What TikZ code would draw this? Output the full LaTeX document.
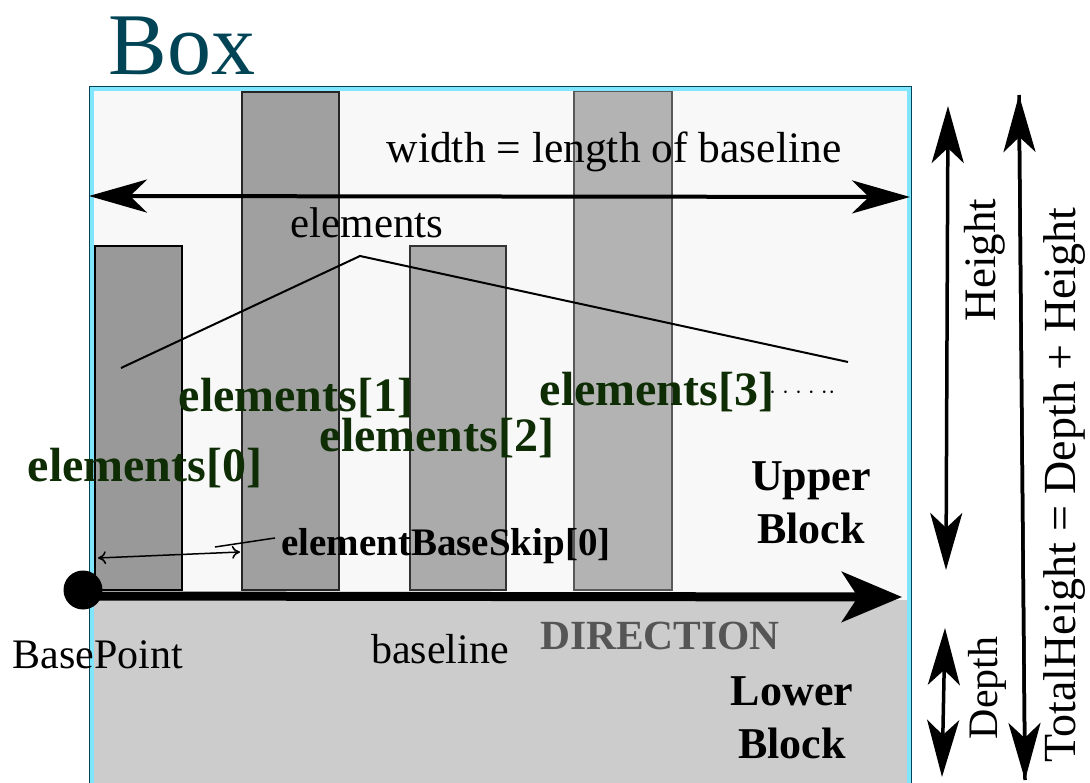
\documentclass[tikz,border=0pt]{standalone}
\usepackage{fontspec}
\setmainfont{Liberation Serif}
\usetikzlibrary{arrows.meta}
\definecolor{boxteal}{RGB}{0,68,85}
\definecolor{boxcyan}{RGB}{128,229,255}
\definecolor{elgreen}{RGB}{15,45,5}
\definecolor{upperfill}{RGB}{248,248,248}
\definecolor{lowerfill}{RGB}{204,204,204}
\definecolor{dirgrey}{RGB}{85,85,85}
\definecolor{barA}{RGB}{153,153,153}
\definecolor{barB}{RGB}{160,160,160}
\definecolor{barC}{RGB}{171,171,171}
\definecolor{barD}{RGB}{179,179,179}
\tikzset{
  txt/.style={inner sep=0pt, font=\fontsize{42}{50}\selectfont},
  grn/.style={inner sep=0pt, text=elgreen, font=\bfseries\fontsize{48}{52}\selectfont},
  blk/.style={inner sep=0pt, align=center, font=\bfseries\fontsize{44}{53}\selectfont},
  bar/.style={line width=2pt},
  bigdouble/.style={line width=3.5pt, {Stealth[length=57pt,width=32pt,inset=15pt]}-{Stealth[length=57pt,width=32pt,inset=15pt]}},
  widtharrow/.style={line width=4pt, {Stealth[length=58pt,width=33pt,inset=17pt]}-{Stealth[length=58pt,width=33pt,inset=17pt]}},
  basearrow/.style={line width=9pt, -{Stealth[length=60pt,width=50pt,inset=16pt]}},
  skiparrow/.style={line width=1.5pt, {To[length=8pt,width=13pt]}-{To[length=8pt,width=13pt]}},
  thinline/.style={line width=2pt}
}
\begin{document}
\begin{tikzpicture}[x=1pt,y=-1pt]
\useasboundingbox (0,0) rectangle (1090,783);
% box fills
\fill[upperfill] (90,87) rectangle (911,600);
\fill[lowerfill] (90,600) rectangle (911,790);
% bars
\draw[bar, fill=barA, draw=black] (95,246) rectangle (182,590);
\draw[bar, fill=barB, draw=black!85] (242,92) rectangle (339,590);
\draw[bar, fill=barC, draw=black!80] (410,246) rectangle (506,590);
\draw[bar, fill=barD, draw=black!65] (574,91) rectangle (672,590);
% box border
\draw[boxcyan, line width=4pt] (92,89) rectangle (909,795);
\draw[boxteal, line width=1.2pt] (89.5,86.5) rectangle (911.5,797);
% title
\node[inner sep=0pt, anchor=base, text=boxteal, font=\fontsize{88}{90}\selectfont] (title) at (182,75) {Box};
% width arrow
\coordinate (wl) at (89,196);
\coordinate (wr) at (910,197);
\draw[widtharrow] (wl) -- (wr);
\node[txt, anchor=base, font=\fontsize{43.5}{50}\selectfont] (wtext) at (614,163) {width = length of baseline};
% elements bracket
\node[txt, anchor=base, font=\fontsize{43}{50}\selectfont] (elems) at (367,238) {elements};
\coordinate (brL) at (121,368);
\coordinate (brM) at (360,256);
\coordinate (brR) at (848,362);
\draw[thinline] (brL) -- (brM) -- (brR);
% element labels
\node[grn, anchor=base] (e1) at (296,412) {elements[1]};
\node[grn, anchor=base] (e2) at (437,452) {elements[2]};
\node[grn, anchor=base] (e0) at (145,482) {elements[0]};
\node[grn, anchor=base] (e3) at (657,406) {elements[3]};
\node[inner sep=0pt, anchor=west, font=\fontsize{46}{50}\selectfont] (dots) at (769,393) {$\cdot\kern0.5pt\cdot\kern0.5pt\cdot\kern0.5pt\cdot\kern0.5pt\cdot\kern0.5pt\cdot$};
% element base skip
\coordinate (skL) at (98,558);
\coordinate (skR) at (240,552);
\draw[skiparrow] (skL) -- (skR);
\node[inner sep=0pt, anchor=base, font=\bfseries\fontsize{39}{42}\selectfont] (skip) at (446,555) {elementBaseSkip[0]};
\coordinate (ldA) at (215,547);
\coordinate (ldB) at (275,538);
\draw[line width=1.5pt] (ldA) -- (ldB);
% blocks
\node[blk, anchor=north] (upper) at (811,461) {Upper\\Block};
\node[blk, anchor=north] (lower) at (792,676) {Lower\\Block};
% baseline
\coordinate (bpStart) at (83,596);
\coordinate (bpEnd) at (902,597);
\draw[basearrow] (bpStart) -- (bpEnd);
\fill[black] (83,590) circle (19.5pt);
\node[txt, anchor=base] (bp) at (98,668) {BasePoint};
\node[txt, anchor=base] (bl) at (440,663) {baseline};
\node[inner sep=0pt, anchor=base, text=dirgrey, font=\bfseries\fontsize{41.5}{45}\selectfont] (dir) at (660,649) {DIRECTION};
% right dimension arrows
\coordinate (hT) at (948,106);
\coordinate (hB) at (946,570);
\draw[bigdouble] (hB) -- (hT);
\coordinate (dT) at (945,628);
\coordinate (dB) at (942,777);
\draw[bigdouble] (dT) -- (dB);
\coordinate (tT) at (1019,95);
\coordinate (tB) at (1025,780);
\draw[line width=3.5pt, -{Stealth[length=57pt,width=32pt,inset=15pt]}] (tB) -- (tT);
\draw[line width=3.5pt, -{Stealth[length=57pt,width=32pt,inset=15pt]}] (tT) -- (tB);
\node[txt, rotate=90, font=\fontsize{45}{50}\selectfont] (ht) at (985,260) {Height};
\node[txt, rotate=90] (dp) at (987,688) {Depth};
\node[txt, rotate=90, font=\fontsize{46}{50}\selectfont] (th) at (1064,485) {TotalHeight = Depth + Height};
\end{tikzpicture}
\end{document}
